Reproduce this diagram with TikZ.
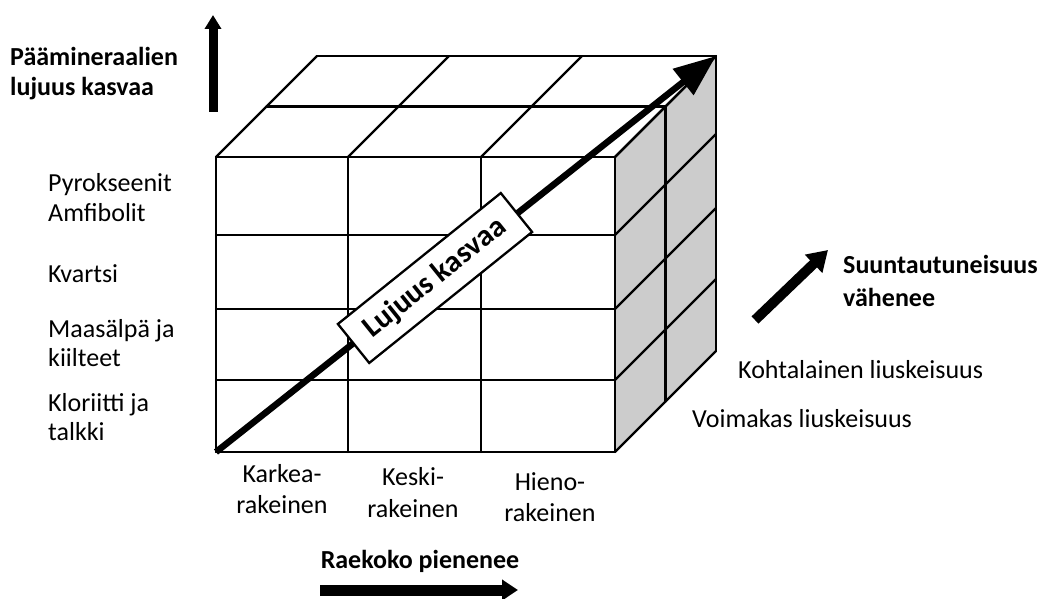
\documentclass[tikz,border=0pt]{standalone}
\usepackage{fontspec}
\setmainfont{Carlito}
\usetikzlibrary{arrows.meta}
\begin{document}
\begin{tikzpicture}[x=1pt,y=-1pt,
  gridline/.style={line width=2.3pt, line join=round, line cap=round},
  lbl/.style={font=\fontsize{26}{31}\selectfont, inner sep=0pt},
  blbl/.style={font=\fontsize{26}{31}\selectfont\bfseries, inner sep=0pt}]
\useasboundingbox (0,0) rectangle (1047,599);
% cube corners
\coordinate (FBL) at (216,452);
\coordinate (FBR) at (615,452);
\coordinate (FTL) at (216,157);
\coordinate (FTR) at (615,157);
\coordinate (BTL) at (317,56);
\coordinate (BTR) at (716,56);
\coordinate (BBR) at (716,351);
% side face
\fill[black!20] (FTR) -- (BTR) -- (BBR) -- (FBR) -- cycle;
% front grid
\foreach \x in {216,348,481,615} \draw[gridline] (\x,157) -- (\x,452);
\foreach \y in {157,235,309,380,452} \draw[gridline] (216,\y) -- (615,\y);
% top face
\draw[gridline] (BTL) -- (BTR);
\draw[gridline] (266.5,106.5) -- (665.5,106.5);
\foreach \x in {216,348,481,615} \draw[gridline] (\x,157) -- (\x+101,56);
% side face
\foreach \y in {157,235,309,380,452} \draw[gridline] (615,\y) -- (716,\y-101);
\draw[gridline] (665.5,106.5) -- (665.5,401.5);
\draw[gridline] (BTR) -- (BBR);
% big diagonal arrow
\draw[line width=6.5pt, -{Triangle[length=42pt,width=32pt]}] (FBL) -- (BTR);
\node[draw, line width=2.3pt, fill=white, rotate=38.8, minimum width=209pt, minimum height=50pt,
      font=\fontsize{30.5}{34}\selectfont\bfseries, inner sep=0pt] (lbox) at (435,278) {Lujuus kasvaa};
% left arrow and labels
\coordinate (LA1) at (213,112);
\coordinate (LA2) at (213,15);
\draw[line width=9pt, -{Triangle[length=14pt,width=16pt]}] (LA1) -- (LA2);
\node[blbl, anchor=base west] (h1) at (10,66) {Päämineraalien};
\node[blbl, anchor=base west] (h2) at (10,96) {lujuus kasvaa};
\node[lbl, anchor=base west] (m1) at (48,191) {Pyrokseenit};
\node[lbl, anchor=base west] (m2) at (48,221) {Amfibolit};
\node[lbl, anchor=base west] (m3) at (48,282) {Kvartsi};
\node[lbl, anchor=base west] (m4) at (48,337) {Maasälpä ja};
\node[lbl, anchor=base west] (m5) at (48,366) {kiilteet};
\node[lbl, anchor=base west] (m6) at (48,411) {Kloriitti ja};
\node[lbl, anchor=base west] (m7) at (48,440) {talkki};
% bottom labels
\node[lbl, anchor=base] (k1) at (282,482) {Karkea-};
\node[lbl, anchor=base] (k2) at (282,513) {rakeinen};
\node[lbl, anchor=base] (s1) at (413,485) {Keski-};
\node[lbl, anchor=base] (s2) at (413,517) {rakeinen};
\node[lbl, anchor=base] (h3) at (550,490) {Hieno-};
\node[lbl, anchor=base] (h4) at (550,521) {rakeinen};
\node[blbl, anchor=base] (rk) at (420,568) {Raekoko pienenee};
\coordinate (BA1) at (320,590);
\coordinate (BA2) at (518,590);
\draw[line width=11pt, -{Triangle[length=16pt,width=20pt]}] (BA1) -- (BA2);
% right labels
\coordinate (RA1) at (755,320);
\coordinate (RA2) at (828,250);
\draw[line width=10pt, -{Triangle[length=20pt,width=24pt]}] (RA1) -- (RA2);
\node[blbl, anchor=base west] (su1) at (843,273) {Suuntautuneisuus};
\node[blbl, anchor=base west] (su2) at (843,306) {vähenee};
\node[lbl, anchor=base west] (ko) at (738,378) {Kohtalainen liuskeisuus};
\node[lbl, anchor=base west] (vo) at (692,427) {Voimakas liuskeisuus};
\end{tikzpicture}
\end{document}
